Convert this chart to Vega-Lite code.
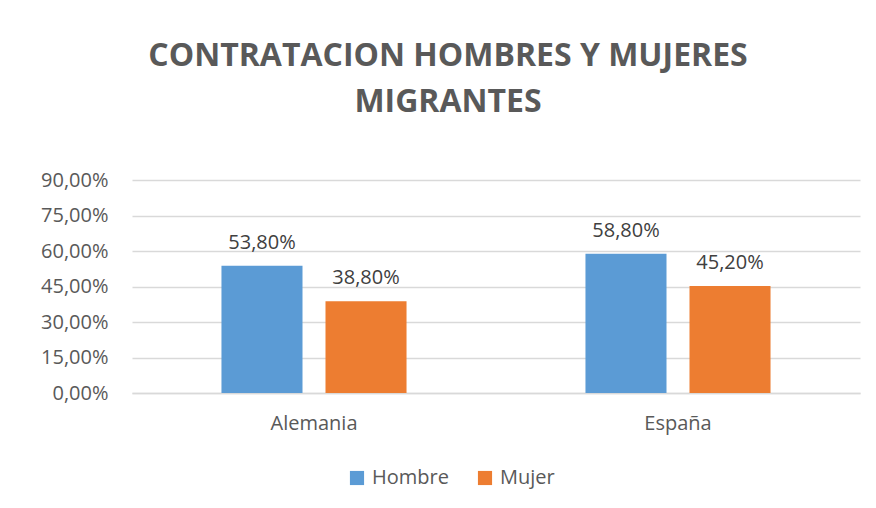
{
  "$schema": "https://vega.github.io/schema/vega-lite/v6.json",
  "autosize": {"type": "none"},
  "width": 728,
  "height": 213,
  "padding": {"left": 132, "top": 180, "right": 16, "bottom": 115},
  "background": "white",
  "config": {
    "locale": {"number": {"decimal": ",", "thousands": ".", "grouping": [3], "currency": ["", " €"]}},
    "view": {"stroke": null},
    "font": "Open Sans"
  },
  "title": {
    "text": ["CONTRATACION HOMBRES Y MUJERES", "MIGRANTES"],
    "font": "Open Sans",
    "fontSize": 32,
    "fontWeight": "bold",
    "color": "#595959",
    "anchor": "middle",
    "dx": -48,
    "offset": 51,
    "lineHeight": 46
  },
  "data": {
    "values": [
      {"pais": "Alemania", "sexo": "Hombre", "valor": 0.538},
      {"pais": "Alemania", "sexo": "Mujer", "valor": 0.388},
      {"pais": "España", "sexo": "Hombre", "valor": 0.588},
      {"pais": "España", "sexo": "Mujer", "valor": 0.452}
    ]
  },
  "encoding": {
    "x": {
      "field": "pais",
      "type": "nominal",
      "sort": ["Alemania", "España"],
      "scale": {"paddingInner": 0, "paddingOuter": 0},
      "axis": {
        "title": null,
        "labelAngle": 0,
        "labelFontSize": 20,
        "labelColor": "#595959",
        "labelPadding": 20,
        "ticks": false,
        "domain": true,
        "domainColor": "#D9D9D9",
        "domainWidth": 1.5
      }
    },
    "xOffset": {
      "field": "sexo",
      "type": "nominal",
      "sort": ["Hombre", "Mujer"],
      "scale": {"paddingInner": 0.221, "paddingOuter": 0.86}
    },
    "y": {
      "field": "valor",
      "type": "quantitative",
      "scale": {"domain": [0, 0.9]},
      "axis": {
        "title": null,
        "values": [0, 0.15, 0.3, 0.45, 0.6, 0.75, 0.9],
        "format": ".2%",
        "labelFontSize": 20,
        "labelColor": "#595959",
        "labelPadding": 24,
        "ticks": false,
        "domain": false,
        "grid": true,
        "gridColor": "#D9D9D9",
        "gridWidth": 1.5
      }
    }
  },
  "layer": [
    {
      "mark": {"type": "bar"},
      "encoding": {
        "color": {
          "field": "sexo",
          "type": "nominal",
          "sort": ["Hombre", "Mujer"],
          "scale": {"domain": ["Hombre", "Mujer"], "range": ["#5B9BD5", "#ED7D31"]},
          "legend": {
            "title": null,
            "orient": "none",
            "direction": "horizontal",
            "legendX": 215,
            "legendY": 288,
            "symbolType": "square",
            "symbolSize": 200,
            "symbolStrokeWidth": 0,
            "labelFontSize": 20,
            "labelColor": "#595959",
            "labelOffset": 5,
            "columnPadding": 26
          }
        }
      }
    },
    {
      "mark": {"type": "text", "baseline": "alphabetic", "dy": -17, "fontSize": 20, "color": "#404040"},
      "encoding": {
        "text": {"field": "valor", "type": "quantitative", "format": ".2%"}
      }
    }
  ]
}
